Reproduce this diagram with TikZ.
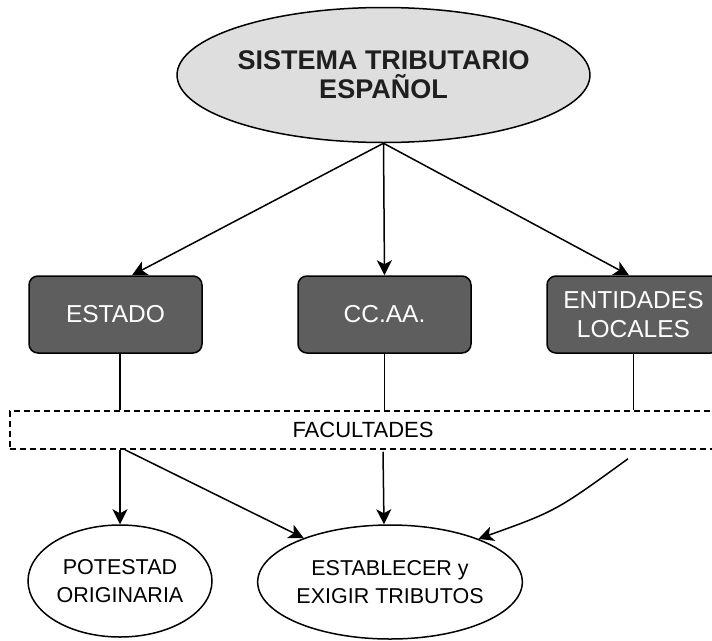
\documentclass[tikz,border=0pt]{standalone}
\usepackage{fontspec}
\setmainfont{Liberation Sans}
\usetikzlibrary{shapes.geometric,arrows.meta,calc}
\definecolor{boxgray}{HTML}{5E5E5E}
\definecolor{topgray}{HTML}{DEDEDE}
\begin{document}
\begin{tikzpicture}[x=1pt,y=-1pt,
  conn/.style={line width=1.5pt,-{Stealth[length=15pt,width=15pt,inset=4pt]}},
  plain/.style={line width=1.5pt},
  topell/.style={ellipse,draw,line width=1.5pt,fill=topgray,minimum width=353pt,minimum height=135pt,inner sep=0pt,align=center,font=\fontsize{27}{29}\selectfont\bfseries,text=black!88},
  darkbox/.style={rectangle,rounded corners=9pt,draw,line width=1.5pt,fill=boxgray,text=white,minimum width=173pt,minimum height=77pt,inner sep=0pt,align=center,font=\fontsize{24.5}{29}\selectfont},
  facbox/.style={rectangle,draw,dash pattern=on 6pt off 4pt,line width=1.5pt,minimum width=706pt,minimum height=38pt,inner sep=0pt,font=\fontsize{22}{25}\selectfont},
  botell/.style={ellipse,draw,line width=1.5pt,inner sep=0pt,align=center,font=\fontsize{21.5}{27.5}\selectfont}
]
\useasboundingbox (0,0) rectangle (712,640);
\node[topell] (top) at (383.5,75) {SISTEMA TRIBUTARIO\\ESPAÑOL};
\node[darkbox] (estado) at (115.5,314.5) {ESTADO};
\node[darkbox] (ccaa) at (384.5,314.5) {CC.AA.};
\node[darkbox] (ent) at (633.5,314.5) {ENTIDADES\\LOCALES};
\node[facbox] (fac) at (363,430) {FACULTADES};
\node[botell, minimum width=184pt, minimum height=112pt] (pot) at (120,581) {POTESTAD\\ORIGINARIA};
\node[botell, minimum width=224pt, minimum height=114pt] (est) at (390,582) {ESTABLECER y\\EXIGIR TRIBUTOS};

\draw[conn] (top.south) -- ([xshift=16.5pt]estado.north);
\draw[conn] (top.south) -- (ccaa.north);
\draw[conn] (top.south) -- ([xshift=-4.5pt]ent.north);

\draw[plain] ([xshift=4.5pt]estado.south) -- ([xshift=4.5pt]estado.south |- fac.north);
\draw[plain] (ccaa.south) -- (ccaa.south |- fac.north);
\draw[plain] (ent.south) -- (ent.south |- fac.north);

\draw[conn] (fac.south -| pot.north) -- (pot.north);
\draw[conn] ([xshift=-238pt]fac.south) -- (est.153);
\draw[conn] ([xshift=20pt,yshift=-2pt]fac.south) -- ([xshift=-6pt]est.north);
\draw[conn] ([xshift=265pt,yshift=-9pt]fac.south) .. controls (556,511) .. (est.26);
\end{tikzpicture}
\end{document}
